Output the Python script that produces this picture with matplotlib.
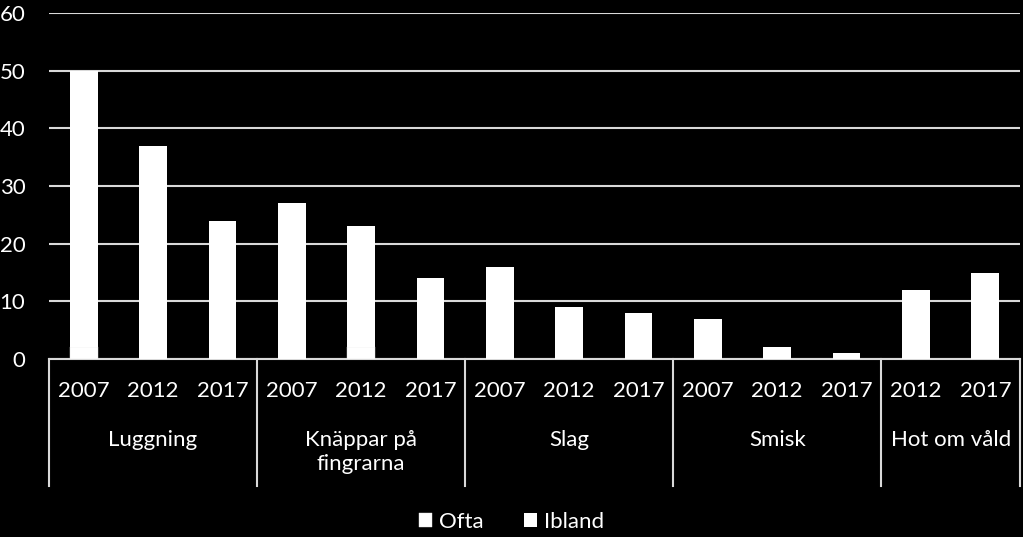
import matplotlib
matplotlib.use("Agg")
import matplotlib.pyplot as plt
import matplotlib.transforms as mtransforms

plt.rcParams['font.family'] = ['Lato', 'DejaVu Sans']

groups = ["Luggning", "Knäppar på\nfingrarna", "Slag", "Smisk", "Hot om våld"]
years = [["2007", "2012", "2017"], ["2007", "2012", "2017"], ["2007", "2012", "2017"],
         ["2007", "2012", "2017"], ["2012", "2017"]]
ofta = [2, 0, 0, 0, 2, 0, 0, 0, 0, 0, 0, 0, 0, 0]
ibland = [48, 37, 24, 27, 21, 14, 16, 9, 8, 7, 2, 1, 12, 15]
series_names = ["Ofta", "Ibland"]
yticks = [0, 10, 20, 30, 40, 50, 60]

FS = 16
W, H = 1023, 537
fig = plt.figure(figsize=(W / 100, H / 100), dpi=100, facecolor="black")
x0, x1, y0, y1 = 49, 1020, 359, 13
ax = fig.add_axes([x0 / W, (H - y0) / H, (x1 - x0) / W, (y0 - y1) / H])
ax.set_facecolor("black")

n = len(ibland)
xs = list(range(n))
ax.bar(xs, ofta, width=0.4, color="white", edgecolor="#e6e6e6", linewidth=0.3, zorder=3, label=series_names[0])
ax.bar(xs, ibland, bottom=ofta, width=0.4, color="white", edgecolor="white", linewidth=0, zorder=3, label=series_names[1])

ax.set_xlim(-0.5, n - 0.5)
ax.set_ylim(0, 60)
ax.set_yticks(yticks)
ax.yaxis.grid(True, color="#d9d9d9", linewidth=1.5, zorder=0)
ax.set_axisbelow(True)
for s in ["left", "right", "top"]:
    ax.spines[s].set_visible(False)
ax.spines["bottom"].set_color("#d9d9d9")
ax.spines["bottom"].set_linewidth(1.5)
ax.tick_params(axis="y", length=0, colors="white", labelsize=FS, pad=17)
ax.tick_params(axis="x", length=0, labelbottom=False)
for lbl in ax.get_yticklabels():
    lbl.set_color("white")

trans = mtransforms.blended_transform_factory(ax.transData, ax.transAxes)
sep_bottom = -(486 - y0) / (y0 - y1)
yr_y = -(391 - y0) / (y0 - y1)
grp_y = -(440 - y0) / (y0 - y1)
grp_y2 = -(452 - y0) / (y0 - y1)

start = 0
bounds = [-0.5]
for g, yl in zip(groups, years):
    for i, y in enumerate(yl):
        ax.text(start + i, yr_y, y, transform=trans, ha="center", va="center",
                color="white", fontsize=FS)
    center = start + (len(yl) - 1) / 2
    ax.text(center, grp_y2 if "\n" in g else grp_y, g, transform=trans, ha="center",
            va="center", color="white", fontsize=FS, linespacing=1.2)
    start += len(yl)
    bounds.append(start - 0.5)

for b in bounds:
    ax.plot([b, b], [0, sep_bottom], transform=trans, color="#d9d9d9", linewidth=1.5,
            clip_on=False, zorder=5)

leg = fig.legend(loc="center", bbox_to_anchor=(0.5, 1 - 522 / H), ncol=2, frameon=False,
                 fontsize=FS, handlelength=0.6, handleheight=0.6, handletextpad=0.3,
                 columnspacing=1.8)
for t in leg.get_texts():
    t.set_color("white")

fig.savefig("out.png", dpi=100, facecolor="black")
